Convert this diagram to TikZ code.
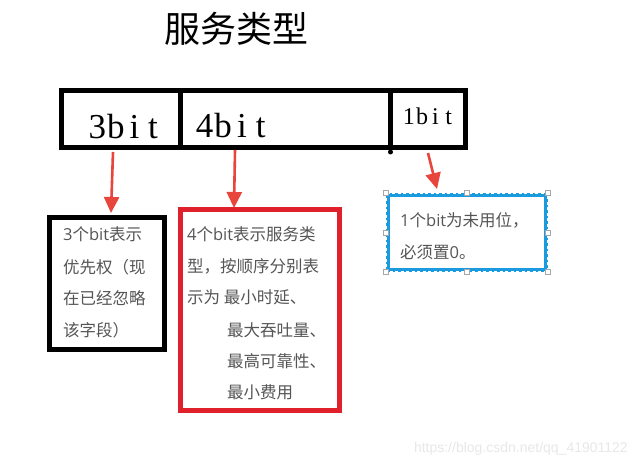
\documentclass[tikz,border=0pt]{standalone}
\usepackage{fontspec}
\usetikzlibrary{arrows.meta}
\newfontfamily\cjk{Noto Sans CJK SC}
\newfontfamily\lserif{Liberation Serif}
\newfontfamily\lsans{Liberation Sans}
\newfontfamily\lat{Open Sans}
\definecolor{arrred}{HTML}{E8453C}
\definecolor{boxred}{HTML}{E0202A}
\definecolor{selblue}{HTML}{1A9BE0}
\definecolor{txtgray}{HTML}{555555}
\newcommand\bitcell[2]{\makebox[#1][c]{#2}}
\newcommand\lt[1]{{\lat #1}}
\tikzset{
  frame/.style={draw=black,line width=5pt,inner sep=0pt,outer sep=0pt},
  bigbit/.style={font=\lserif\fontsize{35}{35}\selectfont,inner sep=0pt,anchor=base west},
  smallbit/.style={font=\lserif\fontsize{24}{24}\selectfont,inner sep=0pt,anchor=base west},
  boxtxt/.style={font=\cjk\fontsize{16.5}{20}\selectfont,text=txtgray,inner sep=0pt,anchor=base west},
  redarrow/.style={draw=arrred,line width=2.6pt,-{Triangle[width=15pt,length=16pt]}},
  handle/.style={draw=gray!70,fill=white,line width=0.6pt,minimum size=5pt,inner sep=0pt}
}
\begin{document}
\begin{tikzpicture}[x=1pt,y=-1pt]
\useasboundingbox[fill=white] (0,0) rectangle (635,465);

% title
\node[font=\cjk\fontsize{36}{36}\selectfont,inner sep=0pt] (title) at (236,29) {服务类型};

% top bar
\node[frame,minimum width=404pt,minimum height=57pt] (bar) at (263.5,119.5) {};
\draw[line width=5pt] (180,91) -- (180,148);
\draw[line width=5pt] (390.5,91) -- (390.5,150);
\fill (390.5,152) circle (2.5pt);
\node[bigbit] (b3) at (88,139) {\bitcell{18.5pt}{3}\bitcell{18.5pt}{b}\bitcell{18.5pt}{i}\bitcell{18.5pt}{t}};
\node[bigbit] (b4) at (195,138) {\bitcell{18.7pt}{4}\bitcell{18.7pt}{b}\bitcell{18.7pt}{i}\bitcell{18.7pt}{t}};
\node[smallbit] (b1) at (402,125) {\bitcell{13.3pt}{1}\bitcell{13.3pt}{b}\bitcell{13.3pt}{i}\bitcell{13.3pt}{t}};

% box 1
\node[frame,minimum width=114.5pt,minimum height=132pt] (box1) at (106.75,283.5) {};
\node[boxtxt] (l1a) at (63,241) {\lt{3}个\lt{bit}表示};
\node[boxtxt] (l1b) at (63,273.5) {优先权（现};
\node[boxtxt] (l1c) at (63,305) {在已经忽略};
\node[boxtxt] (l1d) at (63,337) {该字段）};

% box 2
\node[frame,draw=boxred,minimum width=159.5pt,minimum height=201pt] (box2) at (259.75,310) {};
\node[boxtxt] (l2a) at (187,241) {\lt{4}个\lt{bit}表示服务类};
\node[boxtxt] (l2b) at (187,273) {型，按顺序分别表};
\node[boxtxt] (l2c) at (187,304) {示为 最小时延、};
\node[boxtxt] (l2d) at (227,336) {最大吞吐量、};
\node[boxtxt] (l2e) at (227,367) {最高可靠性、};
\node[boxtxt] (l2f) at (227,398) {最小费用};

% box 3 (selected text box)
\node[draw=selblue,line width=4pt,minimum width=158pt,minimum height=75pt,inner sep=0pt] (box3) at (467,232.5) {};
\draw[white,line width=1.2pt,dash pattern=on 3pt off 2.5pt] (box3.north west) rectangle (box3.south east);
\foreach \a/\n in {north west/h1,north/h2,north east/h3,west/h4,east/h5,south west/h6,south/h7,south east/h8}
  \node[handle] (\n) at (box3.\a) {};
\node[boxtxt] (l3a) at (400,227) {\lt{1}个\lt{bit}为未用位，};
\node[boxtxt] (l3b) at (400,259) {必须置\lt{0}。};

% arrows
\coordinate (s1) at (113,152);
\coordinate (e1) at (111,213);
\coordinate (s2) at (235,150);
\coordinate (e2) at (234,208);
\coordinate (s3) at (428,153);
\coordinate (e3) at (437,189);
\draw[redarrow] (s1) -- (e1);
\draw[redarrow] (s2) -- (e2);
\draw[redarrow] (s3) -- (e3);

% watermark
\node[font=\lsans\fontsize{14}{14}\selectfont,text=black!9,inner sep=0pt,anchor=base east] (wm) at (628,452) {https://blog.csdn.net/qq\_41901122};
\end{tikzpicture}
\end{document}
